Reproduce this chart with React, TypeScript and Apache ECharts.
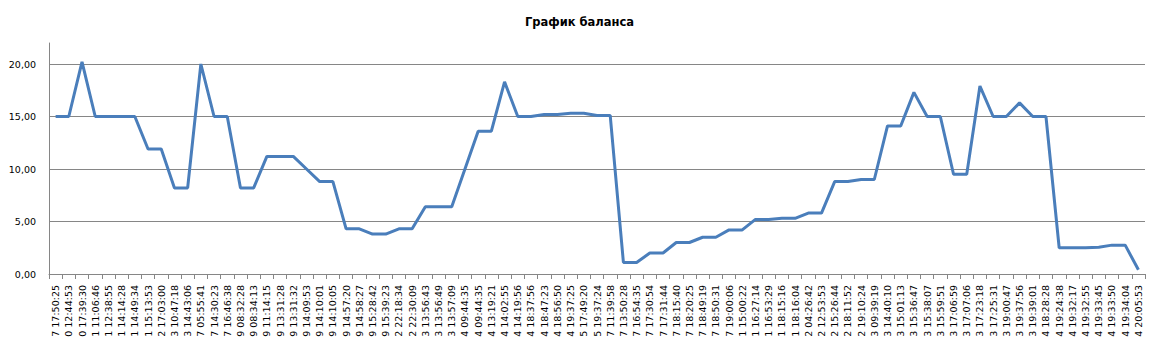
import React, { useEffect, useRef } from 'react';
import * as echarts from 'echarts';

const chartTitle = 'График баланса';

const categories = [
  '7 17:50:25', '0 12:44:53', '0 17:39:30', '1 11:06:46', '1 12:38:55', '1 14:14:28', '1 14:49:34',
  '1 15:13:53', '2 17:03:00', '3 10:47:18', '3 14:43:06', '7 05:55:41', '7 14:30:23', '7 16:46:38',
  '9 08:32:28', '9 08:34:13', '9 11:14:15', '9 13:31:28', '9 13:31:32', '9 14:09:53', '9 14:10:01',
  '9 14:10:05', '9 14:57:20', '9 14:58:27', '9 15:28:42', '9 15:39:23', '2 22:18:34', '2 22:30:09',
  '3 13:56:43', '3 13:56:49', '3 13:57:09', '4 09:44:35', '4 09:44:35', '4 13:19:21', '4 14:02:55',
  '4 14:19:56', '4 18:37:56', '4 18:47:23', '4 18:56:50', '4 19:37:25', '5 17:49:20', '5 19:37:24',
  '7 11:39:58', '7 13:50:28', '7 16:54:35', '7 17:30:54', '7 17:31:44', '7 18:15:40', '7 18:20:25',
  '7 18:49:19', '7 18:50:31', '7 19:00:06', '1 15:00:22', '1 16:27:14', '1 16:53:29', '1 18:15:16',
  '1 18:16:04', '2 04:26:42', '2 12:53:53', '2 15:26:44', '2 18:11:52', '2 19:10:24', '3 09:39:19',
  '3 14:40:10', '3 15:01:13', '3 15:36:47', '3 15:38:07', '3 15:59:51', '3 17:06:59', '3 17:07:06',
  '3 17:23:18', '3 17:25:31', '3 19:00:47', '3 19:37:56', '3 19:39:01', '4 18:28:28', '4 19:24:38',
  '4 19:32:17', '4 19:32:55', '4 19:33:45', '4 19:33:50', '4 19:34:04', '4 20:05:53',
];

const balance = [
  15, 15, 20.2, 15, 15, 15, 15, 11.9, 11.9, 8.2,
  8.2, 20.0, 15, 15, 8.2, 8.2, 11.2, 11.2, 11.2, 10.0,
  8.8, 8.8, 4.3, 4.3, 3.8, 3.8, 4.3, 4.3, 6.4, 6.4,
  6.4, 10.0, 13.6, 13.6, 18.3, 15, 15, 15.2, 15.2, 15.3,
  15.3, 15.1, 15.1, 1.1, 1.1, 2.0, 2.0, 3.0, 3.0, 3.5,
  3.5, 4.2, 4.2, 5.2, 5.2, 5.3, 5.3, 5.8, 5.8, 8.8,
  8.8, 9.0, 9.0, 14.1, 14.1, 17.3, 15, 15, 9.5, 9.5,
  17.9, 15, 15, 16.3, 15, 15, 2.5, 2.5, 2.5, 2.55,
  2.75, 2.75, 0.4,
];

const yMin = 0;
const yMax = 22;
const yStep = 5;

export default function App() {
  const ref = useRef<HTMLDivElement>(null);

  useEffect(() => {
    document.body.style.margin = '0';
    if (!ref.current) return;
    const chart = echarts.init(ref.current, undefined, { renderer: 'svg' });
    const font = 'DejaVu Sans, Verdana, sans-serif';
    chart.setOption({
      animation: false,
      backgroundColor: '#ffffff',
      title: {
        text: chartTitle,
        left: 'center',
        top: 11,
        textStyle: { fontFamily: font, fontSize: 11.5, fontWeight: 'bold', color: '#000' },
      },
      grid: { left: 49, right: 14, top: 43, bottom: 65, containLabel: false, outerBoundsMode: 'none' },
      xAxis: {
        type: 'category',
        data: categories,
        boundaryGap: true,
        axisLine: { show: true, lineStyle: { color: '#868686', width: 1 } },
        axisTick: { show: true, length: 5, interval: 0, lineStyle: { color: '#868686' } },
        axisLabel: {
          interval: 0,
          rotate: 90,
          margin: 11,
          fontFamily: font,
          fontSize: 9.5,
          color: '#000',
        },
        splitLine: { show: false },
      },
      yAxis: {
        type: 'value',
        min: yMin,
        max: yMax,
        interval: yStep,
        axisLine: { show: true, lineStyle: { color: '#868686', width: 1 } },
        axisTick: { show: false },
        axisLabel: {
          showMaxLabel: false,
          margin: 13,
          fontFamily: font,
          fontSize: 9.5,
          color: '#000',
          formatter: (v: number) => v.toFixed(2).replace('.', ','),
        },
        splitLine: { show: true, showMaxLine: false, lineStyle: { color: '#868686', width: 1 } },
      },
      series: [
        {
          type: 'line',
          data: balance,
          symbol: 'none',
          lineStyle: { color: '#4a7ebb', width: 3 },
          itemStyle: { color: '#4a7ebb' },
        },
      ],
    });
    return () => chart.dispose();
  }, []);

  return <div ref={ref} style={{ width: 1159, height: 339 }} />;
}
